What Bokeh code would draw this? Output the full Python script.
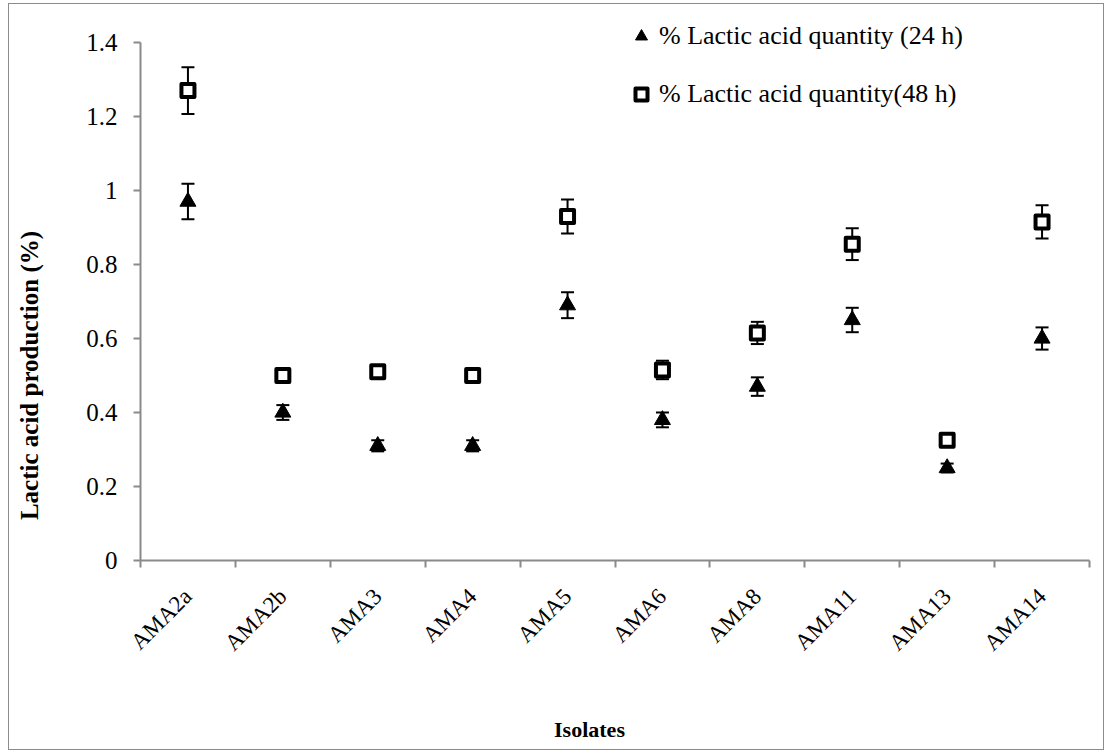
import math
import numpy as np
from bokeh.plotting import figure
from bokeh.models import (ColumnDataSource, Whisker, TeeHead, Range1d, FixedTicker,
                          Legend, LegendItem, Label)
from bokeh.embed import file_html
from bokeh.resources import INLINE

# ---------------- data ----------------
isolates = ["AMA2a", "AMA2b", "AMA3", "AMA4", "AMA5", "AMA6", "AMA8", "AMA11", "AMA13", "AMA14"]
lactic_24h = [0.97, 0.40, 0.31, 0.31, 0.69, 0.38, 0.47, 0.65, 0.25, 0.60]
err_24h = [0.048, 0.020, 0.015, 0.015, 0.035, 0.020, 0.025, 0.033, 0.012, 0.030]
lactic_48h = [1.27, 0.50, 0.51, 0.50, 0.93, 0.515, 0.615, 0.855, 0.325, 0.915]
err_48h = [0.063, 0.015, 0.015, 0.012, 0.046, 0.025, 0.030, 0.043, 0.010, 0.045]
y_ticks = [0, 0.2, 0.4, 0.6, 0.8, 1, 1.2, 1.4]
y_tick_labels = ["0", "0.2", "0.4", "0.6", "0.8", "1", "1.2", "1.4"]
label_24h = "% Lactic acid quantity (24 h)"
label_48h = "% Lactic acid quantity(48 h)"
x_title = "Isolates"
y_title = "Lactic acid production (%)"

# ---------------- layout (pixels inside the figure) ----------------
FONT = "Liberation Serif"
AXIS_GREY = "#8a8a8a"
W, H = 1096, 747
BOX_L, BOX_R, BOX_T, BOX_B = 131, 1080, 38, 556

n = len(isolates)
Y_MAX = y_ticks[-1]
xpos = np.arange(n) + 0.5

ppx = (BOX_R - BOX_L) / n
ppy = (BOX_B - BOX_T) / Y_MAX
x_range = Range1d(-BOX_L / ppx, n + (W - BOX_R) / ppx)
y_range = Range1d(-(H - BOX_B) / ppy, Y_MAX + BOX_T / ppy)

src24 = ColumnDataSource(dict(
    x=xpos, y=lactic_24h,
    upper=np.array(lactic_24h) + np.array(err_24h),
    lower=np.array(lactic_24h) - np.array(err_24h)))
src48 = ColumnDataSource(dict(
    x=xpos, y=lactic_48h,
    upper=np.array(lactic_48h) + np.array(err_48h),
    lower=np.array(lactic_48h) - np.array(err_48h)))

p = figure(width=W, height=H, output_backend="svg", toolbar_location=None,
           x_range=x_range, y_range=y_range,
           min_border_left=0, min_border_right=0, min_border_top=0, min_border_bottom=0)
p.styles = {"border": "1px solid #8c8c8c", "box-sizing": "border-box",
            "margin-left": "8px", "margin-top": "3px"}
p.outline_line_color = None
p.xgrid.visible = False
p.ygrid.visible = False
p.background_fill_color = "white"
p.border_fill_color = "white"

# x axis: labels at category centres, tick marks at boundaries
xa = p.xaxis[0]
xa.fixed_location = 0
xa.bounds = (0, n)
xa.ticker = FixedTicker(ticks=list(xpos), minor_ticks=list(range(n + 1)))
xa.major_label_overrides = {float(x): name for x, name in zip(xpos, isolates)}
xa.major_tick_line_color = None
xa.minor_tick_line_color = AXIS_GREY
xa.minor_tick_line_width = 2
xa.minor_tick_in = 0
xa.minor_tick_out = 7
xa.axis_line_color = AXIS_GREY
xa.axis_line_width = 2
xa.major_label_orientation = math.pi / 4
xa.major_label_text_font = FONT
xa.major_label_text_font_size = "23px"
xa.major_label_text_color = "black"
xa.major_label_standoff = 25

ya = p.yaxis[0]
ya.fixed_location = 0
ya.bounds = (0, Y_MAX)
ya.ticker = FixedTicker(ticks=y_ticks)
ya.major_label_overrides = {float(t): s for t, s in zip(y_ticks, y_tick_labels)}
ya.minor_tick_line_color = None
ya.major_tick_line_color = AXIS_GREY
ya.major_tick_line_width = 2
ya.major_tick_in = 0
ya.major_tick_out = 7
ya.axis_line_color = AXIS_GREY
ya.axis_line_width = 2
ya.major_label_text_font = FONT
ya.major_label_text_font_size = "25px"
ya.major_label_text_color = "black"
ya.major_label_standoff = 16

# error bars
for src in (src24, src48):
    w = Whisker(source=src, base="x", upper="upper", lower="lower",
                line_color="black", line_width=2,
                upper_head=TeeHead(size=13, line_color="black", line_width=2),
                lower_head=TeeHead(size=13, line_color="black", line_width=2))
    p.add_layout(w)

r24 = p.scatter("x", "y", source=src24, marker="triangle", size=16,
                fill_color="black", line_color="black", line_width=1)
r48 = p.scatter("x", "y", source=src48, marker="square", size=13,
                fill_color="white", line_color="black", line_width=4, line_join="round")

legend = Legend(items=[LegendItem(label=label_24h, renderers=[r24]),
                       LegendItem(label=label_48h, renderers=[r48])],
                location=(617, 642))
legend.label_text_font = FONT
legend.label_text_font_size = "26px"
legend.label_text_color = "black"
legend.glyph_width = 30
legend.glyph_height = 30
legend.label_height = 30
legend.label_standoff = 3
legend.spacing = 28
legend.padding = 5
legend.margin = 0
legend.border_line_color = None
legend.background_fill_alpha = 0
p.add_layout(legend, "center")

# axis titles (positioned as in the reference chart area)
p.add_layout(Label(x=580, y=22, x_units="screen", y_units="screen", text=x_title,
                   text_font=FONT, text_font_size="22px", text_font_style="bold",
                   text_align="center", text_baseline="middle", text_color="black"))
p.add_layout(Label(x=20, y=376, x_units="screen", y_units="screen", text=y_title,
                   angle=math.pi / 2, text_font=FONT, text_font_size="25px",
                   text_font_style="bold", text_align="center", text_baseline="middle",
                   text_color="black"))

open("out.html", "w").write(file_html(p, INLINE))
